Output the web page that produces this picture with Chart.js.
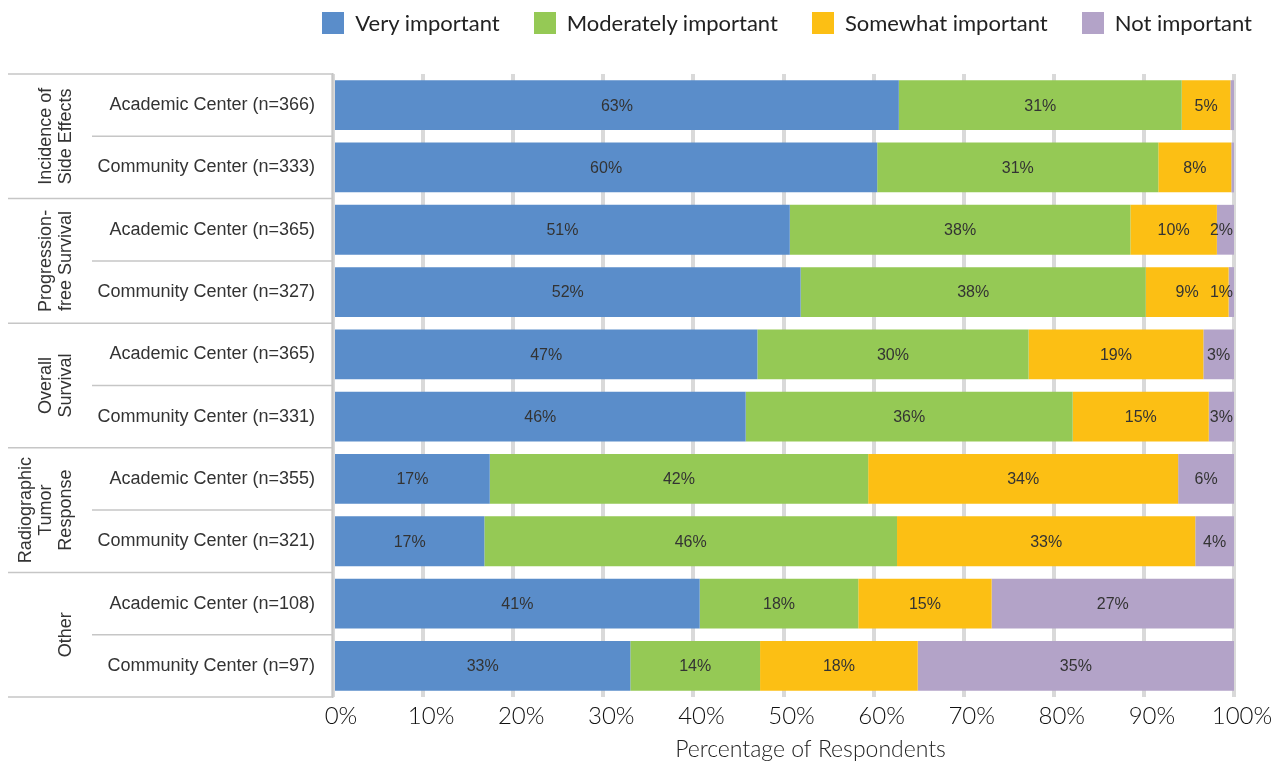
<!DOCTYPE html>
<html>
<head>
<meta charset="utf-8">
<script src="https://cdn.jsdelivr.net/npm/chart.js@4"></script>
<style>
  html, body { margin: 0; padding: 0; background: #fff; }
  #wrap { position: relative; width: 1288px; height: 769px; }
  #legend { position: absolute; top: 9px; right: 36px; display: flex; gap: 34px;
            font-family: Lato, "Open Sans", sans-serif; font-weight: 400; font-size: 22px; color: #222; }
  #legend .item { display: flex; align-items: center; gap: 11px; }
  #legend .box { width: 22px; height: 22px; }
</style>
</head>
<body>
<div id="wrap">
  <div id="legend"></div>
  <canvas id="importanceChart"></canvas>
</div>
<script>
const rowLabels = [
  'Academic Center (n=366)', 'Community Center (n=333)',
  'Academic Center (n=365)', 'Community Center (n=327)',
  'Academic Center (n=365)', 'Community Center (n=331)',
  'Academic Center (n=355)', 'Community Center (n=321)',
  'Academic Center (n=108)', 'Community Center (n=97)'
];
const groupLabels = [
  ['Incidence of', 'Side Effects'],
  ['Progression-', 'free Survival'],
  ['Overall', 'Survival'],
  ['Radiographic', 'Tumor', 'Response'],
  ['Other']
];
const groupSizes = [2, 2, 2, 2, 2];

const seriesNames = ['Very important', 'Moderately important', 'Somewhat important', 'Not important'];
const seriesColors = ['#5a8dca', '#95c955', '#fcbf14', '#b3a3c8'];

const veryImportant       = [62.8, 60.4, 50.7, 51.9, 47.1, 45.8, 17.4, 16.8, 40.7, 33.0];
const moderatelyImportant = [31.4, 31.2, 37.8, 38.3, 30.1, 36.3, 42.0, 45.8, 17.6, 14.4];
const somewhatImportant   = [5.4, 8.1, 9.6, 9.2, 19.4, 15.1, 34.4, 33.1, 14.8, 17.5];
const notImportant        = [0.4, 0.3, 1.9, 0.6, 3.4, 2.8, 6.2, 4.3, 26.9, 35.1];

const xTicks = [0, 10, 20, 30, 40, 50, 60, 70, 80, 90, 100];
const xTitle = 'Percentage of Respondents';

const seriesData = [veryImportant, moderatelyImportant, somewhatImportant, notImportant];

// legend as html, built from the series arrays
const legendEl = document.getElementById('legend');
seriesNames.forEach((name, i) => {
  const item = document.createElement('div');
  item.className = 'item';
  item.innerHTML = `<span class="box" style="background:${seriesColors[i]}"></span><span>${name}</span>`;
  legendEl.appendChild(item);
});

const barLabels = {
  id: 'barLabels',
  afterDatasetsDraw(chart) {
    const ctx = chart.ctx;
    const right = chart.chartArea.right;
    ctx.save();
    ctx.font = '16px "Liberation Sans", Arial, sans-serif';
    ctx.fillStyle = '#333';
    ctx.textAlign = 'center';
    ctx.textBaseline = 'middle';
    chart.data.datasets.forEach((ds, di) => {
      chart.getDatasetMeta(di).data.forEach((bar, i) => {
        const v = ds.data[i];
        if (v < 0.5) return;
        const txt = Math.round(v) + '%';
        const w = ctx.measureText(txt).width;
        let x = (bar.x + bar.base) / 2;
        if (x + w / 2 > right - 1) x = right - 1 - w / 2;
        ctx.fillText(txt, x, bar.y + 1);
      });
    });
    ctx.restore();
  }
};

const groupAxis = {
  id: 'groupAxis',
  afterDraw(chart) {
    const ctx = chart.ctx;
    const y = chart.scales.y;
    const n = rowLabels.length;
    const pitch = (y.bottom - y.top) / n;
    const axisX = chart.chartArea.left;
    ctx.save();
    ctx.strokeStyle = '#c6c6c6';
    ctx.lineWidth = 1.5;
    let row = 0;
    const edges = [0];
    groupSizes.forEach(s => { row += s; edges.push(row); });
    for (let k = 0; k <= n; k++) {
      const py = y.top + k * pitch;
      const isGroup = edges.includes(k);
      ctx.beginPath();
      ctx.moveTo(isGroup ? 8 : 92, py);
      ctx.lineTo(axisX, py);
      ctx.stroke();
    }
    ctx.fillStyle = '#333';
    ctx.font = '18px "Liberation Sans", Arial, sans-serif';
    ctx.textAlign = 'center';
    ctx.textBaseline = 'middle';
    groupLabels.forEach((lines, g) => {
      const cy = y.top + ((edges[g] + edges[g + 1]) / 2) * pitch;
      ctx.save();
      ctx.translate(0, cy);
      ctx.rotate(-Math.PI / 2);
      lines.forEach((line, li) => {
        const lx = 66 - (lines.length - 1 - li) * 20;
        ctx.fillText(line, 0, lx);
      });
      ctx.restore();
    });

    // axis title, centred between the plot's left edge and the right edge of the canvas
    ctx.fillStyle = '#222';
    ctx.font = '300 23px Lato, "Open Sans", sans-serif';
    ctx.fillText(xTitle, (chart.chartArea.left + chart.width) / 2, chart.height - 19);
    ctx.restore();
  }
};

new Chart(document.getElementById('importanceChart'), {
  type: 'bar',
  data: {
    labels: rowLabels,
    datasets: seriesNames.map((name, i) => ({
      label: name,
      data: seriesData[i],
      backgroundColor: seriesColors[i],
      borderWidth: 0,
      barPercentage: 0.8,
      categoryPercentage: 1
    }))
  },
  options: {
    indexAxis: 'y',
    responsive: true,
    maintainAspectRatio: false,
    animation: false,
    layout: { padding: { top: 74, right: 54, bottom: 0, left: 0 } },
    plugins: { legend: { display: false }, tooltip: { enabled: false } },
    scales: {
      x: {
        stacked: true,
        min: 0, max: 100,
        afterBuildTicks: scale => { scale.ticks = xTicks.map(v => ({ value: v })); },
        afterFit: scale => { scale.height = 72; },
        ticks: {
          callback: v => v + '%',
          color: '#111',
          padding: 5,
          labelOffset: 8,
          maxRotation: 0,
          font: { family: 'Lato, "Open Sans", sans-serif', weight: 300, size: 24 }
        },
        grid: { color: '#d9d9d9', lineWidth: 4, drawTicks: false },
        border: { display: false }
      },
      y: {
        stacked: true,
        afterFit: scale => { scale.width = 333; },
        ticks: {
          color: '#333',
          padding: 10,
          font: { family: '"Liberation Sans", Arial, sans-serif', size: 18 }
        },
        grid: { display: false },
        border: { display: true, color: '#c6c6c6', width: 1.5 }
      }
    }
  },
  plugins: [barLabels, groupAxis]
});
</script>
</body>
</html>
